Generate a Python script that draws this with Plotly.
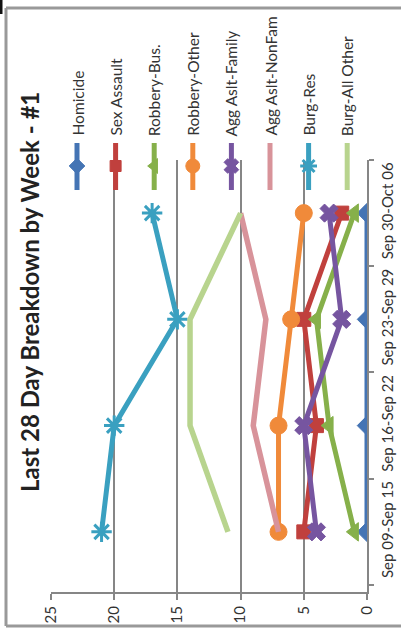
import plotly.graph_objects as go

# ---------------- data ----------------
categories = ["Sep 09-Sep 15", "Sep 16-Sep 22", "Sep 23-Sep 29", "Sep 30-Oct 06"]
series_names = ["Homicide", "Sex Assault", "Robbery-Bus.", "Robbery-Other",
                "Agg Aslt-Family", "Agg Aslt-NonFam", "Burg-Res", "Burg-All Other"]
homicide = [0, 0, 0, 0]
sex_assault = [5, 4, 5, 2]
robbery_bus = [1, 3, 4, 1]
robbery_other = [7, 7, 6, 5]
agg_aslt_family = [4, 5, 2, 3]
agg_aslt_nonfam = [7, 9, 8, 10]
burg_res = [21, 20, 15, 17]
burg_all_other = [11, 14, 14, 10]
value_ticks = [0, 5, 10, 15, 20, 25]
title_text = "Last 28 Day Breakdown by Week - #1"

# ---------------- style ----------------
W, H = 401, 630
PL, PR, PT, PB = 51, 367, 160, 592
FONT = "Lato, 'Open Sans', 'DejaVu Sans', sans-serif"
TXT = "#333333"
GRID = "#868686"

values = [homicide, sex_assault, robbery_bus, robbery_other,
          agg_aslt_family, agg_aslt_nonfam, burg_res, burg_all_other]
colors = ["#4474b4", "#c0403d", "#86b04a", "#f08a3a",
          "#7655a0", "#d8939a", "#3aa0c0", "#b8d48e"]
symbols = ["diamond", "square", "triangle-left", "circle",
           "x", None, "asterisk-open", None]
sizes = [15, 14, 16, 17, 16, 0, 17, 0]


def px(x):
    return x / W


def py(y):
    return 1 - y / H


fig = go.Figure()

for name, vals, col, sym, sz in zip(series_names, values, colors, symbols, sizes):
    if sym is None:
        fig.add_trace(go.Scatter(x=vals, y=categories, mode="lines", name=name,
                                 line=dict(color=col, width=5.5), showlegend=False,
                                 xaxis="x", yaxis="y"))
    else:
        mk = dict(symbol=sym, size=sz, color=col, line=dict(color=col, width=1))
        if sym == "asterisk-open":
            mk["line"] = dict(color=col, width=3)
        fig.add_trace(go.Scatter(x=vals, y=categories, mode="lines+markers", name=name,
                                 line=dict(color=col, width=5), marker=mk,
                                 showlegend=False, xaxis="x", yaxis="y"))

# ---------------- legend (drawn in pixel overlay axes) ----------------
LEG_X0, LEG_DX = 77, 38.6
LEG_Y0, LEG_Y1, LEG_YM, LEG_TXT = 143, 190, 166, 138
for i, (name, col, sym, sz) in enumerate(zip(series_names, colors, symbols, sizes)):
    lx = LEG_X0 + LEG_DX * i
    fig.add_trace(go.Scatter(x=[lx, lx], y=[LEG_Y0, LEG_Y1], mode="lines",
                             line=dict(color=col, width=5), showlegend=False,
                             hoverinfo="skip", xaxis="x2", yaxis="y2"))
    if sym is not None:
        mk = dict(symbol=sym, size=sz - 3, color=col, line=dict(color=col, width=1))
        if sym == "asterisk-open":
            mk["line"] = dict(color=col, width=3)
        fig.add_trace(go.Scatter(x=[lx], y=[LEG_YM], mode="markers", marker=mk,
                                 showlegend=False, hoverinfo="skip",
                                 xaxis="x2", yaxis="y2"))
    fig.add_annotation(x=lx, y=LEG_TXT, xref="x2", yref="y2", text=name,
                       textangle=-90, showarrow=False, xanchor="center",
                       yanchor="bottom", font=dict(family=FONT, size=15.5, color=TXT))

# title
fig.add_annotation(x=29, y=292, xref="x2", yref="y2", text="<b>%s</b>" % title_text,
                   textangle=-90, showarrow=False, xanchor="center", yanchor="middle",
                   font=dict(family=FONT, size=24, color="#222222"))

# frame in paper coordinates
FL, FT, FR, FB = 6, 8, 410, 626
for (x0, y0, x1, y1) in [(FL, FT, FR, FT), (FL, FT, FL, FB), (FL, FB, FR, FB)]:
    fig.add_shape(type="line", xref="paper", yref="paper",
                  x0=px(x0), y0=py(y0), x1=px(x1), y1=py(y1),
                  line=dict(color="#999999", width=3), layer="above")
fig.add_shape(type="line", xref="paper", yref="paper", x0=px(1), y0=py(0),
              x1=px(1), y1=py(14), line=dict(color="#111111", width=3))

n = len(categories)
fig.update_layout(
    width=W, height=H, margin=dict(l=0, r=0, t=0, b=0),
    paper_bgcolor="white", plot_bgcolor="rgba(0,0,0,0)",
    font=dict(family=FONT, color=TXT),
    xaxis=dict(domain=[PL / W, PR / W], range=[25, 0], tickvals=value_ticks,
               tickangle=-90, showgrid=True, gridcolor=GRID, gridwidth=2,
               zeroline=False, showline=True, linecolor=GRID, linewidth=2,
               ticks="outside", ticklen=6, tickcolor=GRID, tickwidth=2,
               tickfont=dict(family=FONT, size=15, color=TXT), anchor="y",
               automargin=False),
    yaxis=dict(domain=[1 - PB / H, 1 - PT / H], type="category",
               categoryorder="array", categoryarray=categories,
               range=[-0.5 - 0.066, n - 0.5], side="right", tickangle=-90,
               showgrid=False, zeroline=False, showline=True, linecolor=GRID,
               linewidth=2, ticks="outside", ticklen=5, tickcolor=GRID, tickwidth=2,
               tickson="boundaries", ticklabelstandoff=6,
               tickfont=dict(family=FONT, size=15, color=TXT),
               anchor="x", automargin=False),
    xaxis2=dict(domain=[0, 1], range=[0, W], visible=False, anchor="y2",
                fixedrange=True),
    yaxis2=dict(domain=[0, 1], range=[H, 0], visible=False, anchor="x2",
                fixedrange=True),
)

fig.write_html("out.html", config={"displayModeBar": False},
               post_script="document.body.style.margin='0';"
                           "document.body.style.overflow='hidden';")
